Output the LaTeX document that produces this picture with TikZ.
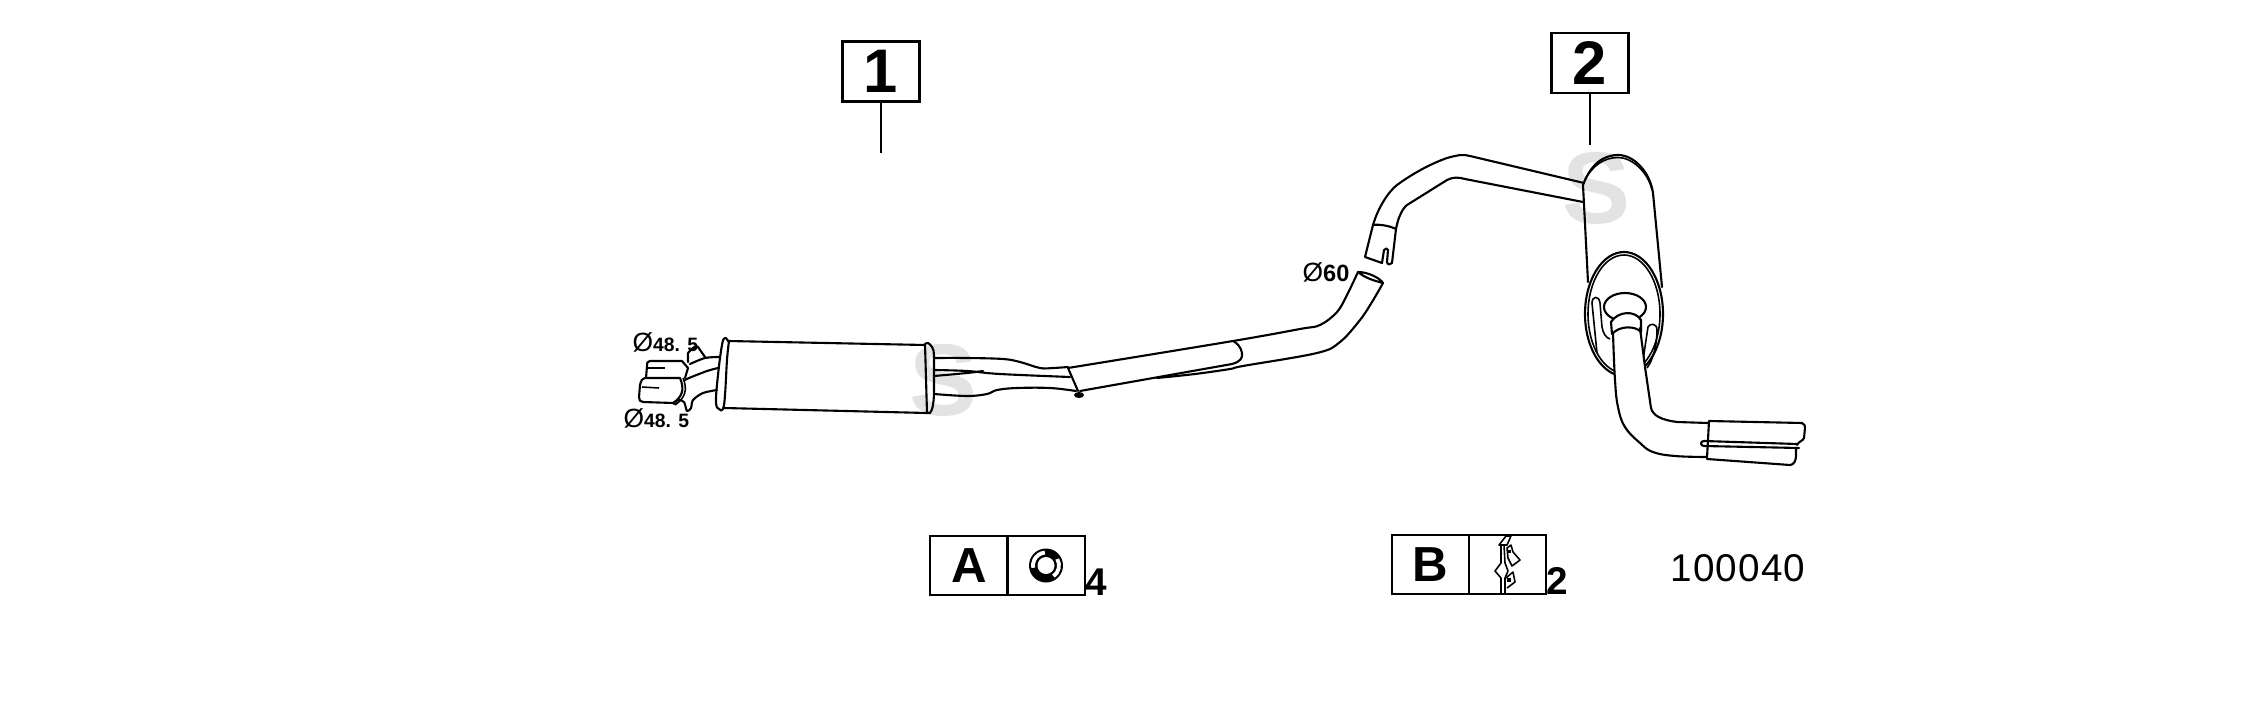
\documentclass[tikz,border=0pt]{standalone}
\usepackage{fontspec}
\setmainfont{Liberation Sans}
\newcommand{\dia}{{\fontsize{7.5}{7.5}\selectfont\mdseries Ø}}
\definecolor{MarkGray}{gray}{0.89}
\tikzset{
    tube/.style={line width=0.6pt,line join=round,line cap=round},
    detail/.style={line width=0.45pt,line join=round},
    tagbox/.style={draw,line width=0.6pt,inner sep=0pt,minimum width=0.77cm,minimum height=0.6cm,font=\fontsize{17.5}{17.5}\selectfont\bfseries},
    partbox/.style={draw,line width=0.6pt,inner sep=0pt,minimum width=0.775cm,minimum height=0.59cm,font=\fontsize{14}{14}\selectfont\bfseries},
    countlbl/.style={inner sep=0pt,font=\fontsize{11}{11}\selectfont\bfseries},
    sizelbl/.style={inner sep=0pt,anchor=west,font=\fontsize{5.5}{5.5}\selectfont\bfseries},
    watermark/.style={inner sep=0pt,text=MarkGray,font=\fontsize{29}{29}\selectfont\bfseries},
}

\begin{document}
\begin{tikzpicture}[x=0.01cm,y=-0.01cm]
    \useasboundingbox (0,0) rectangle (2244,709);
    % --- --- --- Watermarks
    \node[watermark] (markA) at (944,380) {S};
    \node[watermark] (markB) at (1597,188) {S};
    % --- --- --- Part tags
    \node[tagbox] (tagA) at (881,71.5) {1};
    \node[tagbox] (tagB) at (1590,63) {2};
    \coordinate (tagAend) at (881,153);
    \coordinate (tagBend) at (1590,145);
    \draw[line width=0.6pt] (tagA) -- (tagAend);
    \draw[line width=0.6pt] (tagB) -- (tagBend);
    % --- --- --- Front silencer
    \draw[tube] (728,341) -- (925,345);
    \draw[tube] (724,408) -- (927,413);
    \draw[tube] plot[smooth,tension=0.7] coordinates {(728,341) (725,338) (722,345) (718,375) (716,402) (719,409) (723,409) (725,395) (727,360) (729,341)};
    \draw[tube] (925,344) -- (927,413) -- (930,413) .. controls (933,410) and (934,400) .. (934,390) -- (934,355) .. controls (934,348) and (931,345) .. (928,343) .. controls (926,343) and (925,344) .. (925,344);
    % --- --- --- Pipes behind silencer
    \draw[tube] plot[smooth,tension=0.6] coordinates {(934,358) (967,358) (1003,359) (1020,362) (1040,368) (1053,368) (1068,367)};
    \draw[tube] plot[smooth,tension=0.6] coordinates {(934,370) (967,371) (1000,374) (1070,377)};
    \draw[tube] plot[smooth,tension=0.6] coordinates {(934,376) (967,373) (983,371)};
    \draw[tube] plot[smooth,tension=0.6] coordinates {(934,394) (967,396) (987,394) (997,390) (1017,388) (1050,388) (1076,391)};
    \draw[tube] (1068,368) -- (1078,391);
    \fill (1079,395) ellipse[x radius=5,y radius=3];
    % --- --- --- Middle pipe up to the cut
    \draw[tube] plot[smooth,tension=0.6] coordinates {(1068,368) (1233,341) (1300,329) (1320,325) (1337,312) (1347,295) (1358,272)};
    \draw[tube] (1080,391) -- (1232,364) .. controls (1240,362) and (1243,358) .. (1242,353) .. controls (1241,347) and (1237,343) .. (1233,341);
    \draw[tube] plot[smooth,tension=0.6] coordinates {(1157,378) (1195,374) (1230,369) (1243,366) (1317,353) (1340,342) (1360,320) (1372,302) (1383,283)};
    \draw[tube] (1358,272) .. controls (1368,272) and (1380,278) .. (1383,283) .. controls (1375,281) and (1365,278) .. (1358,272);
    % --- --- --- Rear pipe with split end
    \draw[tube] (1584,183) -- (1470,156) .. controls (1463,154) and (1458,155) .. (1447,158) .. controls (1430,164) and (1412,174) .. (1397,185) .. controls (1388,192) and (1378,208) .. (1373,225);
    \draw[tube] (1583,202) -- (1465,179) .. controls (1458,177) and (1453,177) .. (1447,180) -- (1407,205) .. controls (1402,209) and (1398,218) .. (1396,229);
    \draw[tube] (1373,225) .. controls (1380,224) and (1390,226) .. (1396,229);
    \draw[tube] (1373,225) -- (1365,257) -- (1382,263) -- (1384,250) .. controls (1385,248) and (1388,248) .. (1388,250) -- (1387,262) .. controls (1387,265) and (1391,265) .. (1392,263) -- (1396,229);
    % --- --- --- Rear silencer
    \draw[tube] (1588,282) -- (1583,185) .. controls (1590,166) and (1602,155) .. (1618,155) .. controls (1634,155) and (1650,172) .. (1653,193) -- (1662,287);
    \draw[detail] (1585,180) .. controls (1592,166) and (1604,157.5) .. (1618,157.5) .. controls (1632,157.5) and (1648,172) .. (1652,190);
    \draw[tube,fill=white] (1624,314) ellipse[x radius=39,y radius=62];
    \draw[detail] (1624,314) ellipse[x radius=36,y radius=59];
    \draw[detail] (1597,353) -- (1592,303) .. controls (1592,296) and (1599,295) .. (1600,303) -- (1602,327) .. controls (1603,333) and (1606,338) .. (1610,339);
    \draw[detail] (1643,360) -- (1648,327) .. controls (1650,323) and (1657,323) .. (1657,330) .. controls (1657,345) and (1653,360) .. (1647,368);
    \draw[tube] (1625,307) ellipse[x radius=21,y radius=14];
    % --- --- --- Tail pipe
    \fill[white] (1613,333) -- (1615,380) -- (1618,407) -- (1625,427) -- (1640,443) -- (1653,452) -- (1707,457) -- (1708,423) -- (1677,422) -- (1657,417) -- (1652,410) -- (1645,367) -- (1640,328) -- cycle;
    \draw[tube,fill=white] (1612,334) -- (1611,322) .. controls (1618,311) and (1635,310) .. (1641,320) -- (1641,332) .. controls (1636,326) and (1620,325) .. (1612,334);
    \draw[tube] plot[smooth,tension=0.7] coordinates {(1613,333) (1615,380) (1618,407) (1625,427) (1640,443) (1653,452) (1675,456) (1707,457)};
    \draw[tube] (1640,328) -- (1645,367) -- (1651,408) .. controls (1653,416) and (1662,420) .. (1677,422) -- (1708,423);
    % --- --- --- Tail trim
    \draw[tube] (1707,458) -- (1709,421) -- (1802,423) .. controls (1805,424) and (1805,426) .. (1805,428) -- (1804,438) .. controls (1803,441) and (1799,441) .. (1797,445);
    \draw[tube] (1707,459) -- (1790,465) .. controls (1794,465) and (1796,460) .. (1796,456) -- (1796,449);
    \draw[tube] (1797,444) -- (1704,441) .. controls (1700,441) and (1700,446) .. (1704,446) -- (1799,448);
    % --- --- --- Front outlets
    \draw[tube] (685,378) -- (688,368) -- (682,361) -- (650,361) .. controls (647,361) and (647,363) .. (647,366) -- (646,378);
    \draw[detail] (648,368) -- (665,368);
    \draw[tube,fill=white] (645,378) -- (680,378) .. controls (685,390) and (682,397) .. (673,403) -- (643,402) .. controls (640,402) and (639,400) .. (639,397) -- (640,385) .. controls (641,380) and (643,378) .. (645,378);
    \draw[detail] (642,387) -- (659,388);
    \draw[detail] (683,378) .. controls (688,390) and (685,398) .. (675,405);
    \draw[tube] plot[smooth,tension=0.5] coordinates {(719,357) (705,358) (690,364)};
    \draw[tube] plot[smooth,tension=0.5] coordinates {(718,368) (707,371) (689,378) (685,380)};
    \draw[tube] plot[smooth,tension=0.5] coordinates {(717,390) (703,393) (693,400) (691,408) (687,411) (684,402) (678,400) (674,404)};
    \draw[tube] (688,362) -- (688,353) .. controls (692,348) and (696,345) .. (698,347) -- (705,357);
    % --- --- --- Pipe sizes
    \node[sizelbl] (sizeA) at (632,342) {\dia 48. 5};
    \node[sizelbl] (sizeB) at (623,418) {\dia 48. 5};
    \node[sizelbl,font=\fontsize{6.7}{6.7}\selectfont\bfseries] (sizeC) at (1302,272) {\dia 60};
    % --- --- --- Fitting boxes
    \node[partbox] (fitA) at (969,565.5) {A};
    \node[partbox] (iconA) at (1046,565.5) {};
    \node[countlbl] (countA) at (1096,582) {4};
    \node[partbox] (fitB) at (1430.5,564.5) {B};
    \node[partbox] (iconB) at (1507.5,564.5) {};
    \node[countlbl] (countB) at (1557,581) {2};
    % === === === Ring icon
    \fill (iconA.center) circle[radius=17];
    \draw[white,line width=1.1pt] (iconA.center) ++(-95:13) arc[start angle=-95,end angle=-190,radius=13];
    \draw[white,line width=1.1pt] (iconA.center) ++(-30:13) arc[start angle=-30,end angle=55,radius=13];
    \fill[white] (iconA.center) circle[radius=8.5];
    % === === === Clamp icon
    \draw[detail,fill=white] (1499,545) -- (1506,536) -- (1511,536) -- (1507,545) -- cycle;
    \draw[detail] (1501,545) -- (1501,563) -- (1495,571) -- (1501,578) -- (1501,593);
    \draw[detail] (1504,545) -- (1505,563) -- (1508,571) -- (1505,578) -- (1505,593);
    \draw[detail] (1511,545) -- (1507,548) -- (1508,558) -- (1512,566) -- (1520,560) -- (1513,552) -- cycle;
    \draw[detail] (1506,578) -- (1513,572) -- (1515,582) -- (1507,588);
    \fill (1508,550) rectangle (1511,553);
    \fill (1507,578) rectangle (1511,582);
    % --- --- --- Drawing number
    \node[inner sep=0pt,font=\fontsize{11}{11}\selectfont\addfontfeature{LetterSpace=3}] (drawno) at (1738,568) {100040};
\end{tikzpicture}
\end{document}
